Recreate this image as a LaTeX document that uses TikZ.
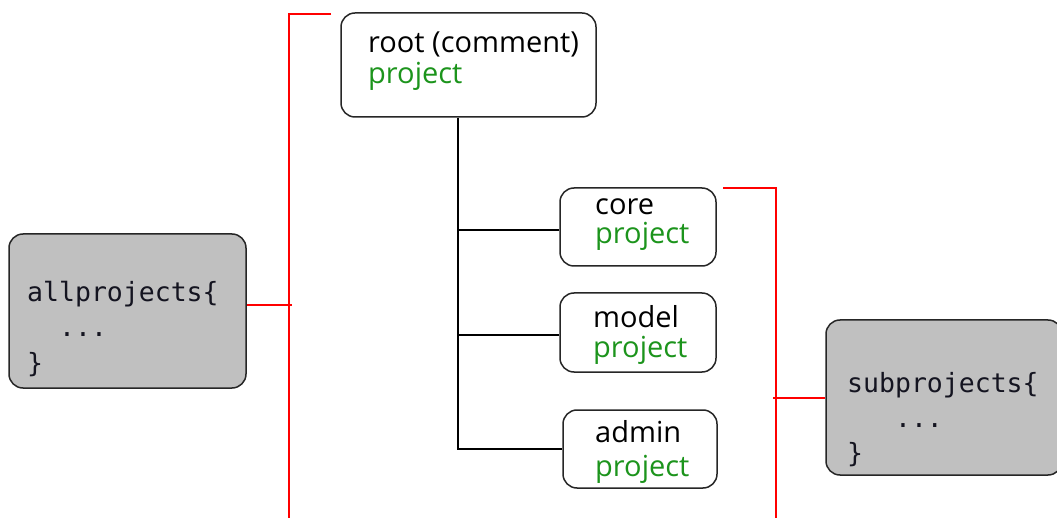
\documentclass[tikz,border=0pt]{standalone}
\usepackage{fontspec}
\setmainfont{Open Sans}
\setmonofont{DejaVu Sans Mono}
\usetikzlibrary{calc}
\definecolor{projgreen}{RGB}{28,148,28}
\definecolor{codegray}{RGB}{192,192,192}
\definecolor{boxline}{RGB}{38,38,38}
\definecolor{codeink}{RGB}{20,20,32}
\begin{document}
\begin{tikzpicture}[x=1pt,y=-1pt,
  projbox/.style={draw=boxline, line width=1.5pt, rounded corners=14pt, inner sep=0pt},
  codebox/.style={projbox, fill=codegray},
  ptitle/.style={anchor=base west, inner sep=0pt, font=\fontsize{29}{34}\selectfont, text=black},
  pkind/.style={ptitle, text=projgreen},
  ctext/.style={anchor=base west, inner sep=0pt, font=\ttfamily\fontsize{26.5}{32}\selectfont, text=codeink},
  tree/.style={draw=black, line width=1.5pt},
  scopeline/.style={draw=red, line width=1.6pt}]
\clip (0,0) rectangle (1057,518);
\fill[white] (0,0) rectangle (1057,518);

% project boxes
\node[projbox, minimum width=255pt, minimum height=104pt] (root)  at (468.5,65) {};
\node[projbox, minimum width=156pt, minimum height=78pt]  (core)  at (638,227) {};
\node[projbox, minimum width=156pt, minimum height=79pt]  (model) at (638,332.5) {};
\node[projbox, minimum width=154pt, minimum height=78pt]  (admin) at (640,449) {};

% script blocks
\node[codebox, minimum width=237pt, minimum height=154pt] (all) at (127.5,311) {};
\node[codebox, minimum width=236pt, minimum height=155pt] (sub) at (944,397.5) {};

% project labels
\node[ptitle] (rootname) at (368,53) {root (comment)};
\node[pkind] (rootkind) at (368,84) {project};
\node[ptitle] (corename) at (595,215) {core};
\node[pkind] (corekind) at (595,244) {project};
\node[ptitle] (modelname) at (593,328) {model};
\node[pkind] (modelkind) at (593,358) {project};
\node[ptitle] (adminname) at (595,442) {admin};
\node[pkind] (adminkind) at (595,476) {project};

% code labels
\node[ctext] (allopen)  at (27,302) {allprojects\{};
\node[ctext] (alldots)  at (27,337) {\ \ ...};
\node[ctext] (allclose) at (27,372) {\}};
\node[ctext] (subopen)  at (847,392) {subprojects\{};
\node[ctext] (subdots)  at (847,427) {\ \ \ ...};
\node[ctext] (subclose) at (847,462) {\}};

% project tree
\coordinate (trunk) at (458,449);
\draw[tree] (root.south -| trunk) |- (admin.west);
\draw[tree] ($(core.west)+(0,3)$) -- ($(core.west -| trunk)+(0,3)$);
\draw[tree] ($(model.west)+(0,2.5)$) -- ($(model.west -| trunk)+(0,2.5)$);

% scope of allprojects
\coordinate (alltop) at (331,14);
\coordinate (allbot) at (289,520);
\draw[scopeline] (alltop) -| (allbot);
\draw[scopeline] ($(all.east)+(0,-6)$) -- ($(all.east -| allbot)+(3,-6)$);

% scope of subprojects
\coordinate (subtop) at (723,188);
\coordinate (subbot) at (776,520);
\draw[scopeline] (subtop) -| (subbot);
\draw[scopeline] ($(sub.west -| subbot)+(-3,0.5)$) -- ($(sub.west)+(0,0.5)$);
\end{tikzpicture}
\end{document}
